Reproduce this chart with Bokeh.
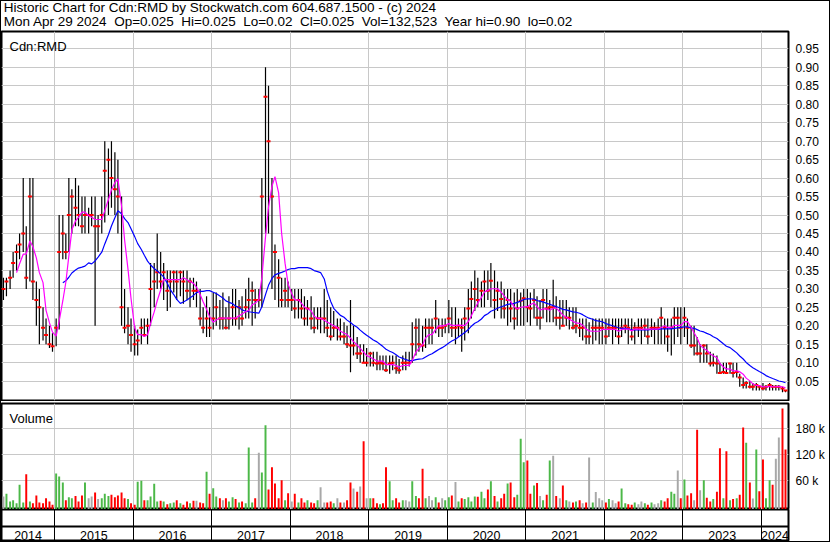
import numpy as np
import pandas as pd
from bokeh.plotting import figure
from bokeh.layouts import column
from bokeh.models import (ColumnDataSource, Range1d, FixedTicker, Label,
                          PrintfTickFormatter, Grid)
from bokeh.core.properties import value
from bokeh.embed import file_html
from bokeh.resources import INLINE

FONT = "Liberation Sans"

# ---- data: half-month bars, May 2014 .. Apr 2024 ----
bar_start = pd.date_range("2014-05-01", periods=240, freq="SMS")

high = [
    0.33, 0.33, 0.35, 0.40, 0.42, 0.45, 0.60, 0.47, 0.60, 0.60,
    0.32, 0.30, 0.25, 0.22, 0.20, 0.18, 0.22, 0.50, 0.50, 0.45,
    0.60, 0.57, 0.60, 0.58, 0.55, 0.55, 0.52, 0.55, 0.55, 0.50,
    0.55, 0.70, 0.68, 0.70, 0.67, 0.65, 0.55, 0.30, 0.25, 0.22,
    0.20, 0.19, 0.22, 0.22, 0.22, 0.37, 0.37, 0.45, 0.40, 0.37,
    0.35, 0.35, 0.35, 0.35, 0.35, 0.35, 0.35, 0.33, 0.33, 0.32,
    0.30, 0.25, 0.28, 0.25, 0.29, 0.29, 0.27, 0.29, 0.25, 0.28,
    0.30, 0.30, 0.27, 0.28, 0.30, 0.33, 0.32, 0.30, 0.30, 0.60,
    0.90, 0.85, 0.60, 0.42, 0.38, 0.33, 0.33, 0.32, 0.30, 0.30,
    0.30, 0.30, 0.28, 0.27, 0.28, 0.25, 0.25, 0.25, 0.30, 0.27,
    0.25, 0.24, 0.22, 0.22, 0.21, 0.20, 0.27, 0.20, 0.17, 0.15,
    0.15, 0.14, 0.13, 0.13, 0.13, 0.12, 0.12, 0.12, 0.12, 0.12,
    0.12, 0.11, 0.12, 0.13, 0.13, 0.21, 0.22, 0.22, 0.20, 0.22,
    0.22, 0.22, 0.27, 0.22, 0.22, 0.22, 0.27, 0.25, 0.25, 0.22,
    0.22, 0.25, 0.30, 0.32, 0.35, 0.33, 0.32, 0.35, 0.35, 0.37,
    0.35, 0.32, 0.32, 0.30, 0.30, 0.30, 0.29, 0.30, 0.29, 0.30,
    0.30, 0.29, 0.30, 0.28, 0.27, 0.30, 0.30, 0.27, 0.325, 0.28,
    0.27, 0.27, 0.27, 0.25, 0.25, 0.25, 0.22, 0.22, 0.22, 0.21,
    0.22, 0.22, 0.22, 0.22, 0.22, 0.22, 0.22, 0.22, 0.22, 0.22,
    0.22, 0.22, 0.22, 0.21, 0.22, 0.22, 0.22, 0.22, 0.22, 0.21,
    0.22, 0.25, 0.22, 0.22, 0.22, 0.25, 0.25, 0.25, 0.25, 0.22,
    0.20, 0.20, 0.17, 0.15, 0.15, 0.15, 0.13, 0.125, 0.12, 0.10,
    0.10, 0.10, 0.10, 0.10, 0.10, 0.07, 0.06, 0.05, 0.05, 0.045,
    0.045, 0.04, 0.045, 0.04, 0.045, 0.04, 0.04, 0.04, 0.035, 0.025,
]

low = [
    0.27, 0.28, 0.30, 0.33, 0.35, 0.38, 0.40, 0.30, 0.32, 0.27,
    0.20, 0.15, 0.16, 0.15, 0.14, 0.13, 0.145, 0.19, 0.38, 0.38,
    0.40, 0.45, 0.47, 0.47, 0.45, 0.45, 0.45, 0.47, 0.20, 0.40,
    0.45, 0.48, 0.50, 0.52, 0.50, 0.45, 0.20, 0.18, 0.15, 0.13,
    0.12, 0.12, 0.15, 0.17, 0.15, 0.20, 0.25, 0.30, 0.30, 0.27,
    0.24, 0.25, 0.29, 0.27, 0.28, 0.26, 0.27, 0.25, 0.27, 0.25,
    0.20, 0.18, 0.17, 0.17, 0.19, 0.20, 0.19, 0.19, 0.19, 0.19,
    0.20, 0.20, 0.19, 0.20, 0.22, 0.22, 0.20, 0.22, 0.25, 0.25,
    0.45, 0.45, 0.30, 0.27, 0.25, 0.25, 0.25, 0.25, 0.24, 0.22,
    0.22, 0.22, 0.20, 0.20, 0.19, 0.18, 0.19, 0.18, 0.18, 0.17,
    0.16, 0.17, 0.16, 0.16, 0.15, 0.14, 0.074, 0.12, 0.11, 0.10,
    0.10, 0.09, 0.09, 0.09, 0.08, 0.08, 0.08, 0.075, 0.07, 0.08,
    0.07, 0.07, 0.08, 0.08, 0.09, 0.10, 0.12, 0.13, 0.13, 0.14,
    0.15, 0.15, 0.18, 0.17, 0.17, 0.18, 0.18, 0.17, 0.15, 0.17,
    0.13, 0.16, 0.18, 0.22, 0.24, 0.25, 0.25, 0.25, 0.27, 0.25,
    0.22, 0.24, 0.22, 0.22, 0.20, 0.21, 0.19, 0.20, 0.20, 0.20,
    0.21, 0.20, 0.22, 0.20, 0.19, 0.22, 0.21, 0.21, 0.21, 0.20,
    0.19, 0.20, 0.20, 0.19, 0.19, 0.18, 0.17, 0.16, 0.15, 0.15,
    0.15, 0.16, 0.15, 0.15, 0.15, 0.17, 0.15, 0.17, 0.15, 0.17,
    0.18, 0.15, 0.16, 0.15, 0.17, 0.15, 0.17, 0.15, 0.17, 0.15,
    0.15, 0.15, 0.15, 0.13, 0.12, 0.15, 0.17, 0.15, 0.17, 0.15,
    0.14, 0.12, 0.12, 0.10, 0.10, 0.10, 0.09, 0.09, 0.07, 0.07,
    0.07, 0.07, 0.07, 0.06, 0.06, 0.035, 0.03, 0.03, 0.03, 0.025,
    0.025, 0.025, 0.025, 0.025, 0.025, 0.025, 0.025, 0.025, 0.02, 0.02,
]

close = [
    0.30, 0.32, 0.33, 0.37, 0.40, 0.42, 0.45, 0.33, 0.55, 0.32,
    0.27, 0.25, 0.195, 0.175, 0.15, 0.145, 0.195, 0.40, 0.45, 0.40,
    0.50, 0.55, 0.52, 0.50, 0.47, 0.50, 0.50, 0.50, 0.47, 0.47,
    0.50, 0.62, 0.65, 0.60, 0.57, 0.55, 0.25, 0.195, 0.20, 0.175,
    0.15, 0.16, 0.195, 0.175, 0.20, 0.30, 0.32, 0.345, 0.32, 0.345,
    0.295, 0.32, 0.345, 0.32, 0.345, 0.32, 0.295, 0.32, 0.295, 0.295,
    0.22, 0.195, 0.22, 0.195, 0.22, 0.25, 0.22, 0.22, 0.195, 0.22,
    0.25, 0.22, 0.25, 0.22, 0.25, 0.27, 0.295, 0.27, 0.27, 0.55,
    0.82, 0.70, 0.55, 0.40, 0.33, 0.27, 0.295, 0.27, 0.27, 0.247,
    0.27, 0.247, 0.22, 0.247, 0.22, 0.195, 0.22, 0.22, 0.22, 0.195,
    0.171, 0.195, 0.195, 0.171, 0.171, 0.15, 0.147, 0.147, 0.125, 0.125,
    0.10, 0.10, 0.125, 0.10, 0.098, 0.10, 0.098, 0.08, 0.098, 0.10,
    0.085, 0.08, 0.10, 0.10, 0.10, 0.15, 0.195, 0.15, 0.147, 0.195,
    0.195, 0.195, 0.22, 0.195, 0.195, 0.20, 0.22, 0.195, 0.195, 0.20,
    0.195, 0.22, 0.247, 0.273, 0.30, 0.27, 0.295, 0.32, 0.295, 0.322,
    0.27, 0.295, 0.273, 0.247, 0.27, 0.247, 0.22, 0.247, 0.268, 0.275,
    0.25, 0.247, 0.27, 0.222, 0.222, 0.27, 0.247, 0.25, 0.25, 0.222,
    0.222, 0.20, 0.222, 0.222, 0.195, 0.20, 0.195, 0.195, 0.171, 0.171,
    0.195, 0.195, 0.195, 0.195, 0.171, 0.195, 0.195, 0.195, 0.171, 0.195,
    0.20, 0.195, 0.171, 0.195, 0.195, 0.195, 0.20, 0.171, 0.195, 0.195,
    0.195, 0.222, 0.195, 0.171, 0.195, 0.222, 0.222, 0.195, 0.222, 0.195,
    0.147, 0.147, 0.125, 0.125, 0.147, 0.125, 0.098, 0.10, 0.098, 0.072,
    0.075, 0.072, 0.098, 0.072, 0.075, 0.06, 0.04, 0.045, 0.035, 0.035,
    0.04, 0.035, 0.03, 0.035, 0.04, 0.035, 0.035, 0.035, 0.03, 0.025,
]

# volume in thousands of shares
volume_k = [
    24, 30, 12, 15, 8, 51, 10, 75, 12, 8,
    26, 10, 8, 20, 12, 5, 77, 70, 56, 15,
    22, 20, 25, 12, 26, 56, 20, 24, 33, 18,
    20, 30, 25, 28, 22, 26, 33, 20, 18, 8,
    5, 58, 60, 15, 15, 24, 53, 12, 14, 12,
    6, 8, 10, 15, 8, 5, 12, 8, 14, 14,
    10, 8, 81, 30, 43, 24, 20, 15, 20, 12,
    22, 18, 10, 12, 8, 137, 10, 20, 125, 79,
    188, 40, 91, 54, 20, 61, 15, 31, 12, 30,
    10, 20, 10, 15, 10, 8, 15, 45, 10, 10,
    12, 8, 20, 10, 10, 15, 56, 42, 35, 47,
    151, 20, 20, 20, 8, 6, 8, 91, 59, 15,
    20, 10, 15, 15, 12, 59, 25, 20, 88, 20,
    25, 15, 22, 10, 20, 15, 22, 26, 57, 12,
    20, 18, 22, 12, 24, 23, 35, 20, 40, 59,
    25, 12, 20, 30, 54, 56, 22, 28, 157, 103,
    107, 30, 49, 55, 25, 15, 28, 107, 118, 25,
    20, 49, 15, 12, 10, 12, 15, 8, 10, 114,
    10, 34, 20, 15, 10, 18, 15, 8, 12, 42,
    8, 6, 5, 10, 6, 12, 8, 5, 10, 6,
    8, 15, 12, 20, 35, 30, 84, 20, 63, 26,
    31, 15, 178, 38, 61, 21, 12, 18, 35, 135,
    20, 128, 15, 18, 20, 28, 183, 148, 56, 19,
    132, 36, 109, 20, 61, 51, 111, 160, 227, 132.523,
]

years = list(range(2014, 2025))
year_lines = years[1:]
price_ticks = [0.05, 0.10, 0.15, 0.20, 0.25, 0.30, 0.35, 0.40, 0.45, 0.50,
               0.55, 0.60, 0.65, 0.70, 0.75, 0.80, 0.85, 0.90, 0.95]
volume_ticks = [60, 120, 180]
volume_tick_labels = {60: "60 k", 120: "120 k", 180: "180 k"}

title_line1 = "Historic Chart for Cdn:RMD by Stockwatch.com 604.687.1500 - (c) 2024"
title_line2 = ("Mon Apr 29 2024\u00a0 Op=0.025\u00a0 Hi=0.025\u00a0 Lo=0.02\u00a0 "
               "Cl=0.025\u00a0 Vol=132,523\u00a0 Year hi=0.90\u00a0 lo=0.02")

MA_SHORT, MA_LONG = 5, 19
RED, GREEN, GRAY = "#ff0000", "#4cb848", "#a8a8a8"
GRID = "#c8c8c8"


def year_fraction(ts):
    days = np.where(ts.is_leap_year, 366.0, 365.0)
    return np.asarray(ts.year + (ts.dayofyear - 1) / days, dtype=float)


t = year_fraction(bar_start + pd.Timedelta(days=7))
x_start = year_fraction(pd.DatetimeIndex(["2014-04-29"]))[0]
x_end = year_fraction(pd.DatetimeIndex(["2024-05-06"]))[0]

hi = np.array(high)
lo = np.array(low)
cl = np.array(close)
vol = np.array(volume_k, dtype=float)

step = np.sign(np.diff(cl, prepend=cl[0]))
vol_color = np.where(step > 0, GREEN, np.where(step < 0, RED, GRAY))


def sma(a, n):
    return np.convolve(a, np.ones(n) / n, mode="valid")


W = 828
xr = Range1d(x_start, x_end)


def panel(height, y_range, top, bottom, right_axis=True):
    p = figure(width=W, height=height, x_range=xr, y_range=y_range,
               x_axis_location=None,
               y_axis_location="right" if right_axis else None,
               toolbar_location=None, output_backend="svg",
               min_border_left=0, min_border_right=41,
               min_border_top=top, min_border_bottom=bottom,
               outline_line_color="black", outline_line_width=2,
               background_fill_color="white", border_fill_color="white")
    p.grid.visible = False
    return p


def style_axis(ax, ticks):
    ax.ticker = FixedTicker(ticks=ticks)
    ax.axis_line_color = None
    ax.major_tick_line_color = None
    ax.minor_tick_line_color = None
    ax.major_tick_in = 0
    ax.major_tick_out = 0
    ax.major_label_standoff = 7
    ax.major_label_text_font = FONT
    ax.major_label_text_font_size = "12px"
    ax.major_label_text_color = "black"


# ---- header ----
head = figure(width=W, height=29, x_range=Range1d(0, 1), y_range=Range1d(0, 1),
              x_axis_location=None, y_axis_location=None,
              toolbar_location=None, output_backend="svg", min_border=0,
              outline_line_color=None, background_fill_color="white",
              border_fill_color="white")
head.grid.visible = False
for txt, yy in ((title_line1, 15.5), (title_line2, 1.5)):
    head.add_layout(Label(x=2.3, y=yy, x_units="screen", y_units="screen", text=txt,
                          text_font=FONT, text_font_size="13.5px",
                          text_color="black", text_baseline="bottom"))

# ---- price panel ----
price = panel(371, Range1d(-0.00217, 0.99702), 1, 1)
price.add_layout(Grid(dimension=0, ticker=FixedTicker(ticks=year_lines),
                      grid_line_color=GRID, grid_line_width=1))
price.add_layout(Grid(dimension=1, ticker=FixedTicker(ticks=price_ticks),
                      grid_line_color=GRID, grid_line_width=1))
style_axis(price.yaxis[0], price_ticks)
price.yaxis[0].formatter = PrintfTickFormatter(format="%.2f")

src = ColumnDataSource(dict(t=t, hi=hi, lo=lo, cl=cl))
price.segment(x0="t", y0="lo", x1="t", y1="hi", source=src,
              line_color="black", line_width=1.2)
price.rect(x="t", y="cl", width=4, height=2, width_units="screen",
           height_units="screen", source=src, fill_color=RED, line_color=None)
price.line(t[MA_LONG - 1:], sma(cl, MA_LONG), line_color="#0000ff", line_width=1.2)
price.line(t[MA_SHORT - 1:], sma(cl, MA_SHORT), line_color="#ff00ff", line_width=1.2)
price.add_layout(Label(x=8, y=354, x_units="screen", y_units="screen", text="Cdn:RMD",
                       text_font=FONT, text_font_size="13px", text_color="black",
                       text_baseline="alphabetic"))

# ---- volume panel ----
vol_range = Range1d(-6.23, 238.4)
volp = panel(108, vol_range, 2, 0)
volp.add_layout(Grid(dimension=0, ticker=FixedTicker(ticks=year_lines),
                     grid_line_color=GRID, grid_line_width=1))
volp.add_layout(Grid(dimension=1, ticker=FixedTicker(ticks=volume_ticks),
                     grid_line_color=GRID, grid_line_width=1))
style_axis(volp.yaxis[0], volume_ticks)
volp.yaxis[0].major_label_overrides = volume_tick_labels
vsrc = ColumnDataSource(dict(t=t, v=vol, c=vol_color))
volp.vbar(x="t", top="v", bottom=vol_range.start, width=0.6 / 24, source=vsrc,
          fill_color="c", line_color=None)
volp.add_layout(Label(x=8, y=91, x_units="screen", y_units="screen", text="Volume",
                      text_font=FONT, text_font_size="13px", text_color="black",
                      text_baseline="alphabetic"))

# ---- year strip ----
strip = panel(32, Range1d(0, 32), 0, 0, right_axis=False)
strip.add_layout(Grid(dimension=0, ticker=FixedTicker(ticks=year_lines),
                      grid_line_color="black", grid_line_width=1))
strip.add_layout(Grid(dimension=1, ticker=FixedTicker(ticks=[15]),
                      grid_line_color="black", grid_line_width=2))
label_x = [(max(y, x_start) + min(y + 1, x_end)) / 2 for y in years]
strip.text(x=label_x, y=[6.5] * len(years), text=[str(y) for y in years],
           text_font=value(FONT), text_font_size=value("12.5px"),
           text_align="center", text_baseline="middle", text_color="black")

layout = column(head, price, volp, strip, spacing=0,
                styles={"border": "1px solid black"})

open("out.html", "w").write(file_html(layout, INLINE))
